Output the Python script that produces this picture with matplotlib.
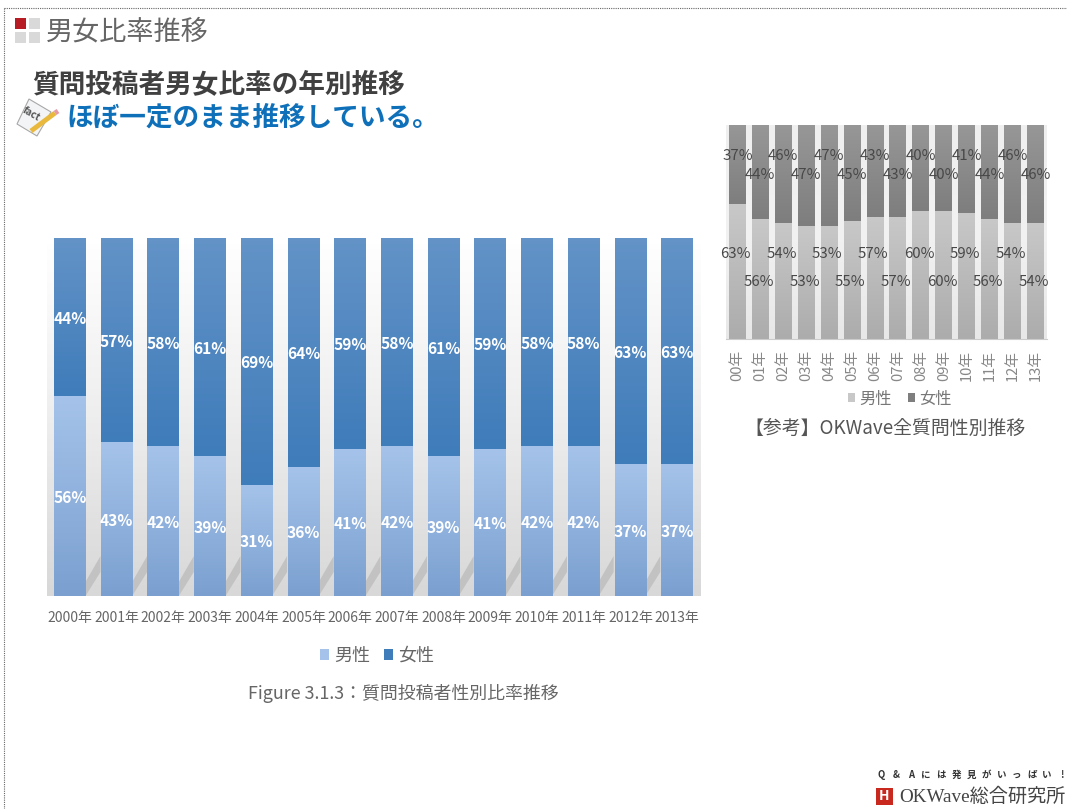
"""
Male / female ratio slide: main stacked bars plus the small grey reference chart.
"""
import numpy as np
import matplotlib
matplotlib.use('Agg')
import matplotlib.pyplot as plt
from matplotlib.colors import LinearSegmentedColormap
from matplotlib.patches import Polygon, Rectangle

plt.rcParams['font.family'] = ['Noto Sans CJK JP', 'DejaVu Sans']

# Data
YEARS = ['2000年', '2001年', '2002年', '2003年', '2004年', '2005年', '2006年',
         '2007年', '2008年', '2009年', '2010年', '2011年', '2012年', '2013年']
MALE = [56, 43, 42, 39, 31, 36, 41, 42, 39, 41, 42, 42, 37, 37]
FEMALE = [44, 57, 58, 61, 69, 64, 59, 58, 61, 59, 58, 58, 63, 63]

REF_YEARS = ['00年', '01年', '02年', '03年', '04年', '05年', '06年',
             '07年', '08年', '09年', '10年', '11年', '12年', '13年']
REF_MALE = [63, 56, 54, 53, 53, 55, 57, 57, 60, 60, 59, 56, 54, 54]
REF_FEMALE = [37, 44, 46, 47, 47, 45, 43, 43, 40, 40, 41, 44, 46, 46]

SERIES = ['男性', '女性']
TAGLINE = 'Q&Aには発見がいっぱい!'

W, H = 1067, 809


def add_axes_px(fig, left, top, right, bottom):
    """Axes placed by pixel box of the 1067x809 page."""
    return fig.add_axes([left / W, 1 - bottom / H, (right - left) / W, (bottom - top) / H])


def gradient_fill(ax, bars, top_color, bottom_color):
    """Repaint each bar with a vertical gradient clipped to the bar."""
    cmap = LinearSegmentedColormap.from_list('g', [top_color, bottom_color])
    grad = np.linspace(0, 1, 64).reshape(-1, 1)
    for bar in bars:
        x, y = bar.get_xy()
        im = ax.imshow(grad, cmap=cmap, aspect='auto', zorder=2,
                       extent=(x, x + bar.get_width(), y, y + bar.get_height()))
        im.set_clip_path(bar)


def stacked(ax, male, female, width, colors):
    x = np.arange(len(male))
    m = np.array(male) / 100
    f = np.array(female) / 100
    bars_m = ax.bar(x, m, width, color=colors[0][0], label=SERIES[0], linewidth=0)
    bars_f = ax.bar(x, f, width, bottom=m, color=colors[1][1], label=SERIES[1], linewidth=0)
    gradient_fill(ax, bars_m, *colors[0])
    gradient_fill(ax, bars_f, *colors[1])
    ax.set_xlim(-0.5, len(male) - 0.5)
    ax.set_ylim(0, 1)
    ax.patch.set_alpha(0)
    ax.set_yticks([])
    for s in ax.spines.values():
        s.set_visible(False)
    return x, m, f


fig = plt.figure(figsize=(W / 100, H / 100), dpi=100, facecolor='white')

# Page layer in pixel coordinates
page = fig.add_axes([0, 0, 1, 1])
page.axis('off')

page.plot([4, W], [8, 8], color='#666666', lw=0.8, ls=(0, (1, 1)))
page.plot([4, 4], [8, H], color='#666666', lw=0.8, ls=(0, (1, 1)))

for (px, py, c) in [(15, 18, '#b71c24'), (29, 18, '#d9d9d9'), (15, 32, '#d9d9d9'), (29, 32, '#d9d9d9')]:
    page.add_patch(Rectangle((px, py), 11, 11, color=c, lw=0))

page.text(46, 32, '男女比率推移', fontsize=19.5, color='#666666', va='center')
page.text(32, 85, '質問投稿者男女比率の年別推移', fontsize=19.2, color='#404040',
          fontweight='bold', va='center')
page.text(67, 118, 'ほぼ一定のまま推移している。', fontsize=19.2, color='#0f70ba',
          fontweight='bold', va='center')

# Notebook icon
page.add_patch(Polygon([(29, 99), (51, 112), (37, 136), (17, 124)], fc='#f2f4f6', ec='#a8a8a8', lw=0.8))
page.text(31, 114, 'fact', fontsize=7, color='#555555', rotation=-30, ha='center', va='center',
          fontweight='bold')
page.plot([31, 55], [131, 113], color='#e8b93c', lw=3.5, solid_capstyle='butt')
page.plot([55, 58], [113, 111], color='#e59aa5', lw=3.5, solid_capstyle='butt')

# Backdrop behind main bars
backdrop = LinearSegmentedColormap.from_list('b', ['#ffffff', '#eeeeee', '#d8d8d8'])
page.imshow(np.linspace(0, 1, 64).reshape(-1, 1), cmap=backdrop, aspect='auto', zorder=0,
            extent=(47, 701, 596, 238))
for i in range(13):
    right = 85.5 + i * 46.65
    next_left = right + 15
    page.add_patch(Polygon([(right, 596), (right, 582), (next_left, 556), (next_left, 572)],
                           fc='#c2c2c2', lw=0, zorder=1))

# Backdrop behind reference bars
page.imshow(np.linspace(0, 1, 64).reshape(-1, 1), zorder=0, aspect='auto',
            cmap=LinearSegmentedColormap.from_list('r', ['#efefef', '#f2f2f2', '#e8e8e8']),
            extent=(726, 1047, 339, 125))
page.set_xlim(0, W)
page.set_ylim(H, 0)

# Main chart
ax = add_axes_px(fig, 46.5, 238, 700.5, 596)
x, m, f = stacked(ax, MALE, FEMALE, 0.68,
                  [('#a5c3ea', '#7ba0d0'), ('#6393c7', '#3f7cba')])
for i in x:
    ax.text(i, m[i] / 2 - 0.005, f'{MALE[i]}%', color='white', fontsize=11.2, fontweight='bold',
            ha='center', va='center', zorder=4)
    ax.text(i, m[i] + f[i] / 2 - 0.005, f'{FEMALE[i]}%', color='white', fontsize=11.2, fontweight='bold',
            ha='center', va='center', zorder=4)
ax.set_xticks(x, YEARS, fontsize=10, color='#666666')
ax.tick_params(axis='x', length=0, pad=11)
ax.legend(loc='center', bbox_to_anchor=(377 / W, 1 - 656 / H), bbox_transform=fig.transFigure,
          ncol=2, frameon=False, fontsize=13, labelcolor='#666666', handlelength=0.5,
          handleheight=0.5, handletextpad=0.25, columnspacing=0.8)

page.text(403, 693, 'Figure 3.1.3：質問投稿者性別比率推移', fontsize=12.9, color='#666666',
          ha='center', va='center')

# Reference chart, labels sit in two staggered rows
ref = add_axes_px(fig, 726, 125, 1047, 339)
x2, m2, f2 = stacked(ref, REF_MALE, REF_FEMALE, 0.74,
                     [('#c8c8c8', '#acacac'), ('#979797', '#7e7e7e')])
for i in x2:
    low = i % 2 == 1
    ref.text(i - 0.08, 0.265 if low else 0.395, f'{REF_MALE[i]}%', color='#484848', fontsize=10.8,
             ha='center', va='center', zorder=4)
    ref.text(i, 0.765 if low else 0.855, f'{REF_FEMALE[i]}%', color='#484848', fontsize=10.8,
             ha='center', va='center', zorder=4)
ref.set_xticks(x2, REF_YEARS, fontsize=10.6, color='#888888', rotation=90)
ref.tick_params(axis='x', length=0, pad=8)
ref.spines['bottom'].set_visible(True)
ref.spines['bottom'].set_color('#cccccc')
ref.legend(loc='center', bbox_to_anchor=(900 / W, 1 - 399 / H), bbox_transform=fig.transFigure,
           ncol=2, frameon=False, fontsize=11.7, labelcolor='#777777', handlelength=0.45,
           handleheight=0.45, handletextpad=0.25, columnspacing=1.0)

page.text(885, 428, '【参考】OKWave全質問性別推移', fontsize=13.6, color='#555555',
          ha='center', va='center')

# Logo
for ch, cx in zip(TAGLINE, np.linspace(881, 1062, len(TAGLINE))):
    page.text(cx, 775, ch, fontsize=6.8, color='#333333', fontweight='bold', ha='center', va='center')
page.add_patch(Rectangle((876, 788), 17, 17, color='#c8281e', lw=0))
page.text(884.5, 796.5, 'H', fontsize=10, color='white', fontweight='bold', ha='center', va='center')
page.text(899, 797, 'OKWave総合研究所', fontsize=13.8, color='#444444', va='center',
          family=['Liberation Serif', 'Noto Sans CJK JP'])

fig.savefig('out.png', dpi=100)
